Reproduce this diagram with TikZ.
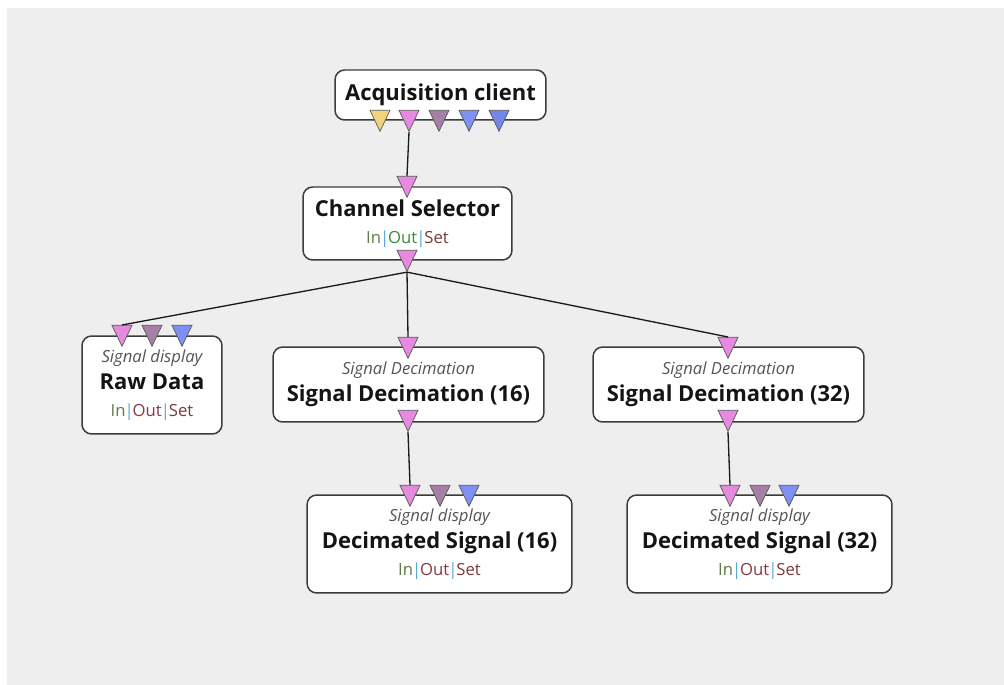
\documentclass[tikz,border=0pt]{standalone}
\usepackage{fontspec}
\setmainfont{Open Sans}
\usetikzlibrary{shapes.geometric}
\definecolor{panelgray}{HTML}{EEEEEE}
\definecolor{boxline}{HTML}{3C3C3C}
\definecolor{portyellow}{HTML}{F2D27C}
\definecolor{portpink}{HTML}{E68AE0}
\definecolor{portmauve}{HTML}{A47FA6}
\definecolor{portblue}{HTML}{7F90F2}
\definecolor{portindigo}{HTML}{7586EA}
\definecolor{ingreen}{HTML}{5E7A48}
\definecolor{outgreen}{HTML}{3F8A3F}
\definecolor{outred}{HTML}{86394A}
\definecolor{setred}{HTML}{7A3A3A}
\definecolor{sepblue}{HTML}{5AA8DC}
\definecolor{kindgray}{HTML}{555555}

% In|Out|Set line under a module title
\newcommand{\ioset}[1][outred]{{\mdseries\fontsize{9.5}{15.3}\selectfont
  \color{ingreen}In\kern-0.6pt\color{sepblue}|\kern-0.6pt\color{#1}Out\kern-0.6pt%
  \color{sepblue}|\kern-0.6pt\color{setred}Set}}
% italic module type above the title
\newcommand{\kind}[1]{{\mdseries\itshape\fontsize{9.5}{15.3}\selectfont\color{kindgray}#1}}

\tikzset{
  module/.style={draw=boxline, line width=0.85pt, fill=white, rounded corners=5.5pt,
    align=center, inner sep=0pt, text=black!92,
    font=\fontsize{12.5}{15.3}\selectfont\bfseries},
  port/.style={draw=boxline!85, line width=0.4pt, fill=#1, isosceles triangle,
    isosceles triangle apex angle=52, isosceles triangle stretches,
    shape border rotate=-90, minimum width=0.4cm, minimum height=0.42cm,
    inner sep=0pt, anchor=lower side},
  link/.style={draw=black!90, line width=0.75pt},
}

\begin{document}
\begin{tikzpicture}[x=0.02cm, y=-0.02cm]
  % canvas
  \fill[white] (0,0) rectangle (1004,685);
  \useasboundingbox (0,0) rectangle (1004,685);
  \fill[panelgray] (7,8) rectangle (1004,685);

  % modules
  \node[module, minimum width=4.22cm, minimum height=1cm] (acq) at (440.5,95)
    {Acquisition client};
  \node[module, minimum width=4.18cm, minimum height=1.46cm] (cs) at (407.5,223.5)
    {Channel Selector\\ \ioset[outgreen]};
  \node[module, minimum width=2.8cm, minimum height=1.96cm] (raw) at (152,385)
    {\kind{Signal display}\\ Raw Data\\ \ioset};
  \node[module, minimum width=5.42cm, minimum height=1.5cm] (dec16) at (408.5,384.5)
    {\kind{Signal Decimation}\\ Signal Decimation (16)};
  \node[module, minimum width=5.42cm, minimum height=1.5cm] (dec32) at (728.5,384.5)
    {\kind{Signal Decimation}\\ Signal Decimation (32)};
  \node[module, minimum width=5.3cm, minimum height=1.96cm] (disp16) at (439.5,544)
    {\kind{Signal display}\\ Decimated Signal (16)\\ \ioset};
  \node[module, minimum width=5.3cm, minimum height=1.96cm] (disp32) at (759.5,544)
    {\kind{Signal display}\\ Decimated Signal (32)\\ \ioset};

  % ports
  \node[port=portyellow] (acq-o1) at (380,110) {};
  \node[port=portpink] (acq-o2) at (409,110) {};
  \node[port=portmauve] (acq-o3) at (439,110) {};
  \node[port=portblue] (acq-o4) at (469,110) {};
  \node[port=portindigo] (acq-o5) at (499,110) {};
  \node[port=portpink] (cs-i) at (407,176) {};
  \node[port=portpink] (cs-o) at (407,250) {};
  \node[port=portpink] (raw-i1) at (122,325) {};
  \node[port=portmauve] (raw-i2) at (152,325) {};
  \node[port=portblue] (raw-i3) at (182,325) {};
  \node[port=portpink] (dec16-i) at (408,337) {};
  \node[port=portpink] (dec16-o) at (408,410) {};
  \node[port=portpink] (dec32-i) at (728,337) {};
  \node[port=portpink] (dec32-o) at (728,410) {};
  \node[port=portpink] (disp16-i1) at (410,485) {};
  \node[port=portmauve] (disp16-i2) at (440,485) {};
  \node[port=portblue] (disp16-i3) at (469,485) {};
  \node[port=portpink] (disp32-i1) at (730,485) {};
  \node[port=portmauve] (disp32-i2) at (760,485) {};
  \node[port=portblue] (disp32-i3) at (789,485) {};

  % links
  \draw[link] (acq-o2.apex) -- (cs-i.lower side);
  \draw[link] (cs-o.apex) -- (raw-i1.lower side);
  \draw[link] (cs-o.apex) -- (dec16-i.lower side);
  \draw[link] (cs-o.apex) -- (dec32-i.lower side);
  \draw[link] (dec16-o.apex) -- (disp16-i1.lower side);
  \draw[link] (dec32-o.apex) -- (disp32-i1.lower side);
\end{tikzpicture}
\end{document}
